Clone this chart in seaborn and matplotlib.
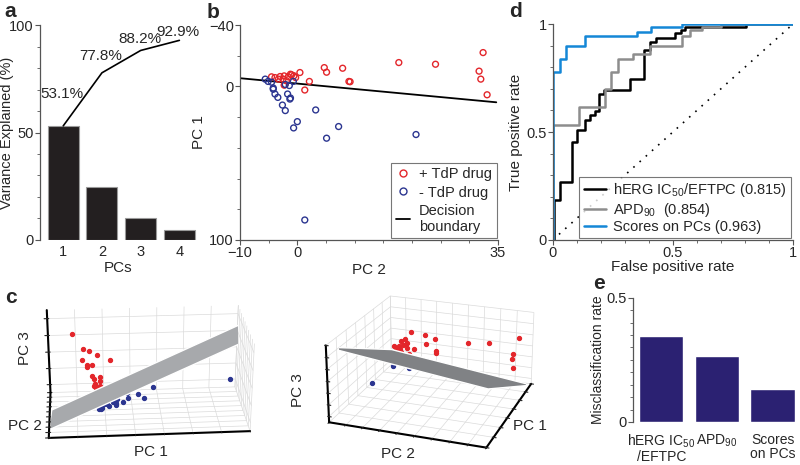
import matplotlib.pyplot as plt
import numpy as np
import seaborn as sns
from matplotlib.lines import Line2D
from matplotlib.ticker import MultipleLocator, FixedLocator

sns.set_style("ticks")
plt.rcParams['font.family'] = ['Liberation Sans', 'DejaVu Sans']
plt.rcParams['mathtext.default'] = 'regular'
plt.rcParams['font.size'] = 10

# ---- data ----
pcs = ['1', '2', '3', '4']
var_explained = [53.1, 24.7, 10.4, 4.7]
cum_explained = [53.1, 77.8, 88.2, 92.9]

# panel b / c scores (PC2, PC1, PC3)
red_pc2 = [32.4, 17.7, 24.1, 31.7, 32.0, 33.1, 4.7, 5.1, 7.9, 9.2, 9.0, 0.45, 2.1, 1.3,
           -1.2, -0.6, -2.2, -1.0, -0.3, -1.6, -2.3, -3.0, -3.9, -4.5, -3.3, -2.5, -1.9, -2.3]
red_pc1 = [-22.1, -15.6, -14.5, -10.0, -4.8, 5.4, -12.3, -9.3, -11.9, -3.1, -3.3, -9.1, -3.3, 2.3,
           -8.0, -7.0, -1.1, -7.6, -5.8, -6.3, -6.9, -6.5, -5.8, -6.3, -4.8, -4.8, -3.7, -0.9]
red_pc3 = [22, 14, 17, 12, 9, 5, 18, 11, 15, 8, 6, 20, 7, 4,
           13, 10, 3, 9, 6, 8, 11, 7, 5, 6, 4, 5, 3, 2]

blue_pc2 = [1.3, 20.7, 5.1, 7.2, 3.2, 0.0, -0.65, -2.1, -2.6, -1.3, -1.7, -3.4, -3.9, -4.2,
            -5.6, -5.1, -4.5, -4.2, -0.7, -1.4, -2.1, -1.2]
blue_pc1 = [87.0, 31.3, 33.7, 26.1, 15.3, 22.9, 27.0, 15.7, 12.1, 8.2, 4.9, 7.1, 4.9, 1.0,
            -4.8, -3.3, -2.8, 1.8, -3.3, -0.6, -1.3, 7.5]
blue_pc3 = [9, 3, 4, 5, 2, 3, 1, 2, 0, 1, 0, -1, 1, 0,
            -2, -2, -2, -1, -2, -1, -1, -1]

# decision boundary in PC2-PC1 plane
boundary_pc2 = [-10, 34.7]
boundary_pc1 = [-5.4, 10.3]

# 3-PC decision plane: PC3 = a*PC1 + b*PC2 + c
plane_a, plane_b, plane_c = 0.35, -0.35, 0.5

# ROC curves (step corners)
herg_fpr = [0, 0.005, 0.029, 0.082, 0.101, 0.133, 0.154, 0.175, 0.193, 0.214, 0.321, 0.379,
            0.404, 0.432, 0.51, 0.536, 0.55, 0.807, 1.0]
herg_tpr = [0, 0.185, 0.267, 0.452, 0.509, 0.556, 0.579, 0.599, 0.676, 0.694, 0.748, 0.88,
            0.918, 0.938, 0.96, 0.972, 0.988, 1.0, 1.0]
apd_fpr = [0, 0, 0.11, 0.217, 0.242, 0.272, 0.335, 0.405, 0.54, 0.57, 0.62, 0.70, 1.0]
apd_tpr = [0, 0.532, 0.614, 0.70, 0.78, 0.84, 0.864, 0.90, 0.944, 0.972, 0.988, 1.0, 1.0]
pcs_fpr = [0, 0, 0.029, 0.054, 0.133, 0.351, 0.41, 0.54, 1.0]
pcs_tpr = [0, 0.78, 0.84, 0.90, 0.944, 0.965, 0.985, 1.0, 1.0]
roc_labels = ['hERG IC$_{50}$/EFTPC (0.815)', 'APD$_{90}$  (0.854)', 'Scores on PCs (0.963)']

# misclassification
mis_labels = ['hERG IC$_{50}$\n/EFTPC', 'APD$_{90}$', 'Scores\non PCs']
mis_rate = [0.347, 0.266, 0.131]

RED = '#e3262b'
BLUE = '#2b3590'
AXC = '#555555'

fig = plt.figure(figsize=(8, 4.65), dpi=100)


def style_axes(ax):
    sns.despine(ax=ax)
    for s in ['left', 'bottom']:
        ax.spines[s].set_color(AXC)
        ax.spines[s].set_linewidth(0.9)
    ax.tick_params(which='both', direction='out', color=AXC, labelsize=10.5, pad=1)
    ax.tick_params(which='major', length=3.5)
    ax.tick_params(which='minor', length=2.5)


def style3d(ax):
    ax.set_facecolor((1, 1, 1, 0))
    for axis in (ax.xaxis, ax.yaxis, ax.zaxis):
        axis.set_pane_color((1, 1, 1, 0))
        axis._axinfo['grid']['color'] = (0.86, 0.86, 0.86, 1)
        axis._axinfo['grid']['linewidth'] = 0.5
        axis.line.set_color('black')
        axis.line.set_linewidth(1.5)
        axis.set_ticklabels([])
    ax.tick_params(labelsize=1, length=2)
    ax.zaxis.set_rotate_label(False)


# ---------- c (3D), drawn first so 2D panels sit on top ----------
g1 = np.linspace(-40, 100, 2)
g2 = np.linspace(-10, 35, 2)
G1, G2 = np.meshgrid(g1, g2)
PLANE = plane_a * G1 + plane_b * G2 + plane_c

ax_c1 = fig.add_axes([0.0, 0.0, 0.36, 0.40], projection='3d')
ax_c1.plot_surface(G1, G2, PLANE, color='#a7a9ac', shade=False, alpha=1)
ax_c1.scatter(red_pc1, red_pc2, red_pc3, color=RED, s=8, depthshade=False)
ax_c1.scatter(blue_pc1, blue_pc2, blue_pc3, color=BLUE, s=8, depthshade=False)
ax_c1.set_xlim(-40, 100)
ax_c1.set_ylim(-10, 35)
ax_c1.set_zlim(-15, 35)
ax_c1.view_init(elev=25, azim=-94)
ax_c1.set_box_aspect((2.1, 1.06, 1), zoom=1.25)
style3d(ax_c1)
ax_c1.set_xlabel('PC 1', fontsize=11, labelpad=-12)
ax_c1.set_ylabel('PC 2', fontsize=11, labelpad=-12)
ax_c1.set_zlabel('PC 3', fontsize=11, labelpad=-12, rotation=90)

ax_c2 = fig.add_axes([0.33, 0.008, 0.42, 0.40], projection='3d')
ax_c2.plot_surface(G2.T, G1.T, PLANE.T, color='#808285', shade=False, alpha=1)
ax_c2.scatter(red_pc2, red_pc1, red_pc3, color=RED, s=8, depthshade=False)
ax_c2.scatter(blue_pc2, blue_pc1, blue_pc3, color=BLUE, s=8, depthshade=False)
ax_c2.set_xlim(-10, 35)
ax_c2.set_ylim(100, -40)
ax_c2.set_zlim(-25, 40)
ax_c2.view_init(elev=22, azim=-70)
ax_c2.set_box_aspect((2, 2, 1), zoom=1.25)
style3d(ax_c2)
ax_c2.zaxis.set_ticks_position('upper')
ax_c2.zaxis.set_label_position('upper')
ax_c2.set_xlabel('PC 2', fontsize=11, labelpad=-12)
ax_c2.set_ylabel('PC 1', fontsize=11, labelpad=-12)
ax_c2.set_zlabel('PC 3', fontsize=11, labelpad=-12, rotation=90)

# ---------- a ----------
ax_a = fig.add_axes([0.05, 0.484, 0.196, 0.462])
sns.barplot(x=pcs, y=var_explained, ax=ax_a, color='#231f20', width=0.8,
            edgecolor='#9a9a9a', linewidth=0.8, saturation=1)
xs = np.arange(len(pcs))
ax_a.plot(xs, cum_explained, color='black', lw=1.2)
offs = [15, 8, 5.3, 3.8]
for i, c in enumerate(cum_explained):
    ax_a.text(xs[i] - 0.03, c + offs[i], f'{c}%', ha='center', va='center', fontsize=11)
ax_a.set_xlim(-0.6, 3.45)
ax_a.set_ylim(0, 100)
ax_a.yaxis.set_major_locator(FixedLocator([0, 50, 100]))
ax_a.yaxis.set_minor_locator(MultipleLocator(10))
style_axes(ax_a)
ax_a.spines['bottom'].set_visible(False)
ax_a.tick_params(axis='x', length=0, pad=4)
ax_a.set_xlabel('PCs', fontsize=11, labelpad=1)
ax_a.set_ylabel('Variance Explained (%)', fontsize=10.5)
ax_a.yaxis.set_label_coords(-0.165, 0.5)

# ---------- b ----------
ax_b = fig.add_axes([0.30, 0.484, 0.3225, 0.462])
ax_b.scatter(red_pc2, red_pc1, s=18, facecolors='none', edgecolors=RED, linewidths=1.0, zorder=3)
ax_b.scatter(blue_pc2, blue_pc1, s=18, facecolors='none', edgecolors=BLUE, linewidths=1.0, zorder=3)
sns.lineplot(x=boundary_pc2, y=boundary_pc1, ax=ax_b, color='black', lw=1.3)
ax_b.set_xlim(-10, 35)
ax_b.set_ylim(100, -40)
ax_b.xaxis.set_major_locator(FixedLocator([-10, 0, 35]))
ax_b.xaxis.set_minor_locator(MultipleLocator(5))
ax_b.yaxis.set_major_locator(FixedLocator([-40, 0, 100]))
ax_b.yaxis.set_minor_locator(MultipleLocator(20))
style_axes(ax_b)
ax_b.set_xlabel('PC 2', fontsize=11, labelpad=2)
ax_b.set_ylabel('PC 1', fontsize=11, labelpad=2)
hb = [Line2D([], [], ls='none', marker='o', mfc='none', mec=RED, ms=5),
      Line2D([], [], ls='none', marker='o', mfc='none', mec=BLUE, ms=5),
      Line2D([], [], color='black', lw=1.3)]
leg = ax_b.legend(hb, ['+ TdP drug', '- TdP drug', 'Decision\nboundary'], loc='lower right',
                  fontsize=10.5, frameon=True, fancybox=False, edgecolor=AXC,
                  handlelength=1.0, handletextpad=0.6, labelspacing=0.3, borderpad=0.3,
                  borderaxespad=0.1)
leg.get_frame().set_linewidth(0.8)

# ---------- d ----------
ax_d = fig.add_axes([0.691, 0.484, 0.30, 0.464])
ax_d.plot([0, 1], [0, 1], ls=(0, (1, 4)), color='black', lw=1.2)
sns.lineplot(x=herg_fpr, y=herg_tpr, ax=ax_d, estimator=None, sort=False, drawstyle='steps-post',
             color='black', lw=1.8, label=roc_labels[0])
sns.lineplot(x=apd_fpr, y=apd_tpr, ax=ax_d, estimator=None, sort=False, drawstyle='steps-post',
             color='#8d8d8d', lw=1.8, label=roc_labels[1])
sns.lineplot(x=pcs_fpr, y=pcs_tpr, ax=ax_d, estimator=None, sort=False, drawstyle='steps-post',
             color='#1487d6', lw=1.8, label=roc_labels[2])
ax_d.set_xlim(0, 1)
ax_d.set_ylim(0, 1)
ax_d.xaxis.set_major_locator(FixedLocator([0, 0.5, 1]))
ax_d.yaxis.set_major_locator(FixedLocator([0, 0.5, 1]))
ax_d.xaxis.set_minor_locator(MultipleLocator(0.1))
ax_d.yaxis.set_minor_locator(MultipleLocator(0.1))
ax_d.set_xticklabels(['0', '0.5', '1'])
ax_d.set_yticklabels(['0', '0.5', '1'])
style_axes(ax_d)
ax_d.set_xlabel('False positive rate', fontsize=11, labelpad=0)
ax_d.set_ylabel('True positive rate', fontsize=11, labelpad=2)
leg = ax_d.legend(loc='lower right', fontsize=10.5, frameon=True, fancybox=False, edgecolor=AXC,
                  handlelength=1.5, handletextpad=0.5, labelspacing=0.1, borderpad=0.3,
                  borderaxespad=0.1)
leg.get_frame().set_linewidth(0.8)

# ---------- e ----------
ax_e = fig.add_axes([0.791, 0.0925, 0.2025, 0.267])
sns.barplot(x=mis_labels, y=mis_rate, ax=ax_e, color='#2b2172', width=0.8, saturation=1)
ax_e.set_ylim(0, 0.5)
ax_e.set_xlim(-0.51, 2.4)
ax_e.yaxis.set_major_locator(FixedLocator([0, 0.5]))
ax_e.yaxis.set_minor_locator(MultipleLocator(0.05))
ax_e.set_yticklabels(['0', '0.5'])
style_axes(ax_e)
ax_e.spines['bottom'].set_visible(False)
ax_e.tick_params(axis='x', length=0, pad=8, labelsize=10)
for t in ax_e.get_xticklabels():
    t.set_linespacing(1.0)
ax_e.set_ylabel('Misclassification rate', fontsize=10, labelpad=1)

# panel letters
for lab, x, y in [('a', 0.006, 0.976), ('b', 0.258, 0.974), ('d', 0.636, 0.976),
                  ('c', 0.006, 0.36), ('e', 0.742, 0.39)]:
    fig.text(x, y, lab, fontsize=15, fontweight='bold', va='center')

fig.savefig('out.png', dpi=100)
